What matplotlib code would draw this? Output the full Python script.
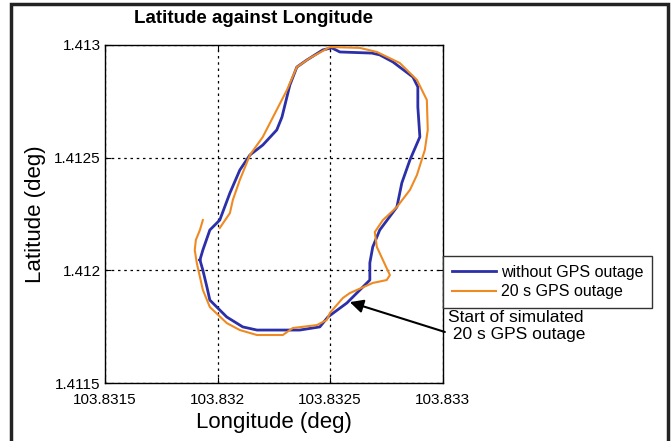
"""
plot.py

Latitude vs longitude track, with and without a 20 s GPS outage.
Saves out.png
"""

import matplotlib
matplotlib.use('Agg')
import matplotlib.pyplot as plt
from matplotlib.patches import Rectangle

plt.rcParams['font.family'] = ['Liberation Sans', 'DejaVu Sans']

# ── DATA ──────────────────────────────────────────────────────
LON_NO_OUTAGE = [103.831922, 103.831935, 103.831953, 103.831966, 103.832041,
                 103.832112, 103.832175, 103.832365, 103.832454, 103.832490,
                 103.832574, 103.832632, 103.832676, 103.832676, 103.832689,
                 103.832720, 103.832796, 103.832818, 103.832854, 103.832898,
                 103.832889, 103.832889, 103.832867, 103.832778, 103.832720,
                 103.832685, 103.832543, 103.832507, 103.832467, 103.832396,
                 103.832352, 103.832321, 103.832286, 103.832263, 103.832201,
                 103.832144, 103.832099, 103.832055, 103.832010, 103.831966,
                 103.831935, 103.831922]
LAT_NO_OUTAGE = [1.412046, 1.412001, 1.411926, 1.411868, 1.411793,
                 1.411749, 1.411735, 1.411735, 1.411749, 1.411793,
                 1.411855, 1.411913, 1.411957, 1.412033, 1.412104,
                 1.412179, 1.412281, 1.412388, 1.412490, 1.412592,
                 1.412725, 1.412814, 1.412858, 1.412925, 1.412956,
                 1.412964, 1.412969, 1.412987, 1.412978, 1.412933,
                 1.412902, 1.412822, 1.412680, 1.412623, 1.412556,
                 1.412512, 1.412445, 1.412343, 1.412223, 1.412179,
                 1.412090, 1.412046]

LON_OUTAGE = [103.831935, 103.831922, 103.831904, 103.831899, 103.831908,
              103.831935, 103.831966, 103.832041, 103.832099, 103.832175,
              103.832290, 103.832334, 103.832441, 103.832485, 103.832499,
              103.832556, 103.832587, 103.832689, 103.832751, 103.832765,
              103.832707, 103.832698, 103.832734, 103.832796, 103.832854,
              103.832885, 103.832920, 103.832933, 103.832929, 103.832885,
              103.832809, 103.832707, 103.832632, 103.832499, 103.832410,
              103.832352, 103.832308, 103.832201, 103.832144, 103.832099,
              103.832068, 103.832055, 103.832010]
LAT_OUTAGE = [1.412223, 1.412179, 1.412135, 1.412090, 1.412033,
              1.411913, 1.411837, 1.411766, 1.411735, 1.411713,
              1.411713, 1.411744, 1.411757, 1.411780, 1.411811,
              1.411877, 1.411899, 1.411944, 1.411957, 1.411979,
              1.412104, 1.412170, 1.412223, 1.412281, 1.412357,
              1.412423, 1.412534, 1.412623, 1.412756, 1.412845,
              1.412920, 1.412969, 1.412987, 1.412991, 1.412942,
              1.412902, 1.412800, 1.412592, 1.412512, 1.412401,
              1.412312, 1.412254, 1.412188]

OUTAGE_START = (103.832587, 1.411859)

X_TICKS = [103.8315, 103.832, 103.8325, 103.833]
X_TICKLABELS = ['103.8315', '103.832', '103.8325', '103.833']
Y_TICKS = [1.4115, 1.412, 1.4125, 1.413]
Y_TICKLABELS = ['1.4115', '1.412', '1.4125', '1.413']

BLUE = '#2b2fa8'
ORANGE = '#ef8a22'


# ── FIGURE ───────────────────────────────────────────────────
fig = plt.figure(figsize=(6.72, 4.41), dpi=100)
ax = fig.add_axes([0.156, 0.1315, 0.503, 0.7665])

ax.plot(LON_NO_OUTAGE, LAT_NO_OUTAGE, color=BLUE, lw=2.0,
        label='without GPS outage', zorder=3)
ax.plot(LON_OUTAGE, LAT_OUTAGE, color=ORANGE, lw=1.5,
        label='20 s GPS outage', zorder=4)

ax.set_xlim(X_TICKS[0], X_TICKS[-1])
ax.set_ylim(Y_TICKS[0], Y_TICKS[-1])
ax.set_xticks(X_TICKS)
ax.set_xticklabels(X_TICKLABELS, fontsize=11)
ax.set_yticks(Y_TICKS)
ax.set_yticklabels(Y_TICKLABELS, fontsize=11)
ax.tick_params(direction='in', length=4, top=True, right=True)
ax.tick_params(axis='x', pad=7)
ax.tick_params(axis='y', pad=3)
ax.grid(True, color='black', ls=(0, (2, 3)), lw=0.9)
for s in ax.spines.values():
    s.set_linewidth(1.0)

ax.set_xlabel('Longitude (deg)', fontsize=16, labelpad=4)
ax.set_ylabel('Latitude (deg)', fontsize=16, labelpad=6)
ax.set_title('Latitude against Longitude', fontsize=13.5,
             fontweight='bold', x=0.44, pad=16)

leg = ax.legend(loc='upper left', bbox_to_anchor=(1.0, 0.376),
                fontsize=11.5, handlelength=2.8, handletextpad=0.3,
                borderaxespad=0, borderpad=0.55, labelspacing=0.3,
                fancybox=False, framealpha=1, edgecolor='#333333')
leg.get_frame().set_linewidth(1.0)

# arrow marking the start of the outage
ax.annotate('', xy=OUTAGE_START, xytext=(1.006, 0.151),
            textcoords='axes fraction',
            arrowprops=dict(arrowstyle='-|>', color='black', lw=1.5,
                            mutation_scale=20, shrinkA=0, shrinkB=0),
            annotation_clip=False)
ax.text(1.015, 0.215, 'Start of simulated\n 20 s GPS outage',
        transform=ax.transAxes, fontsize=12.5, va='top', ha='left',
        linespacing=1.1)

# frame around the whole figure (bottom edge runs off the picture)
fig.patches.append(Rectangle((11 / 672, -0.05), 657 / 672, 1.05 - 4 / 441,
                             transform=fig.transFigure, fill=False,
                             edgecolor='#222222', lw=2.5))

fig.savefig('out.png', dpi=100)
